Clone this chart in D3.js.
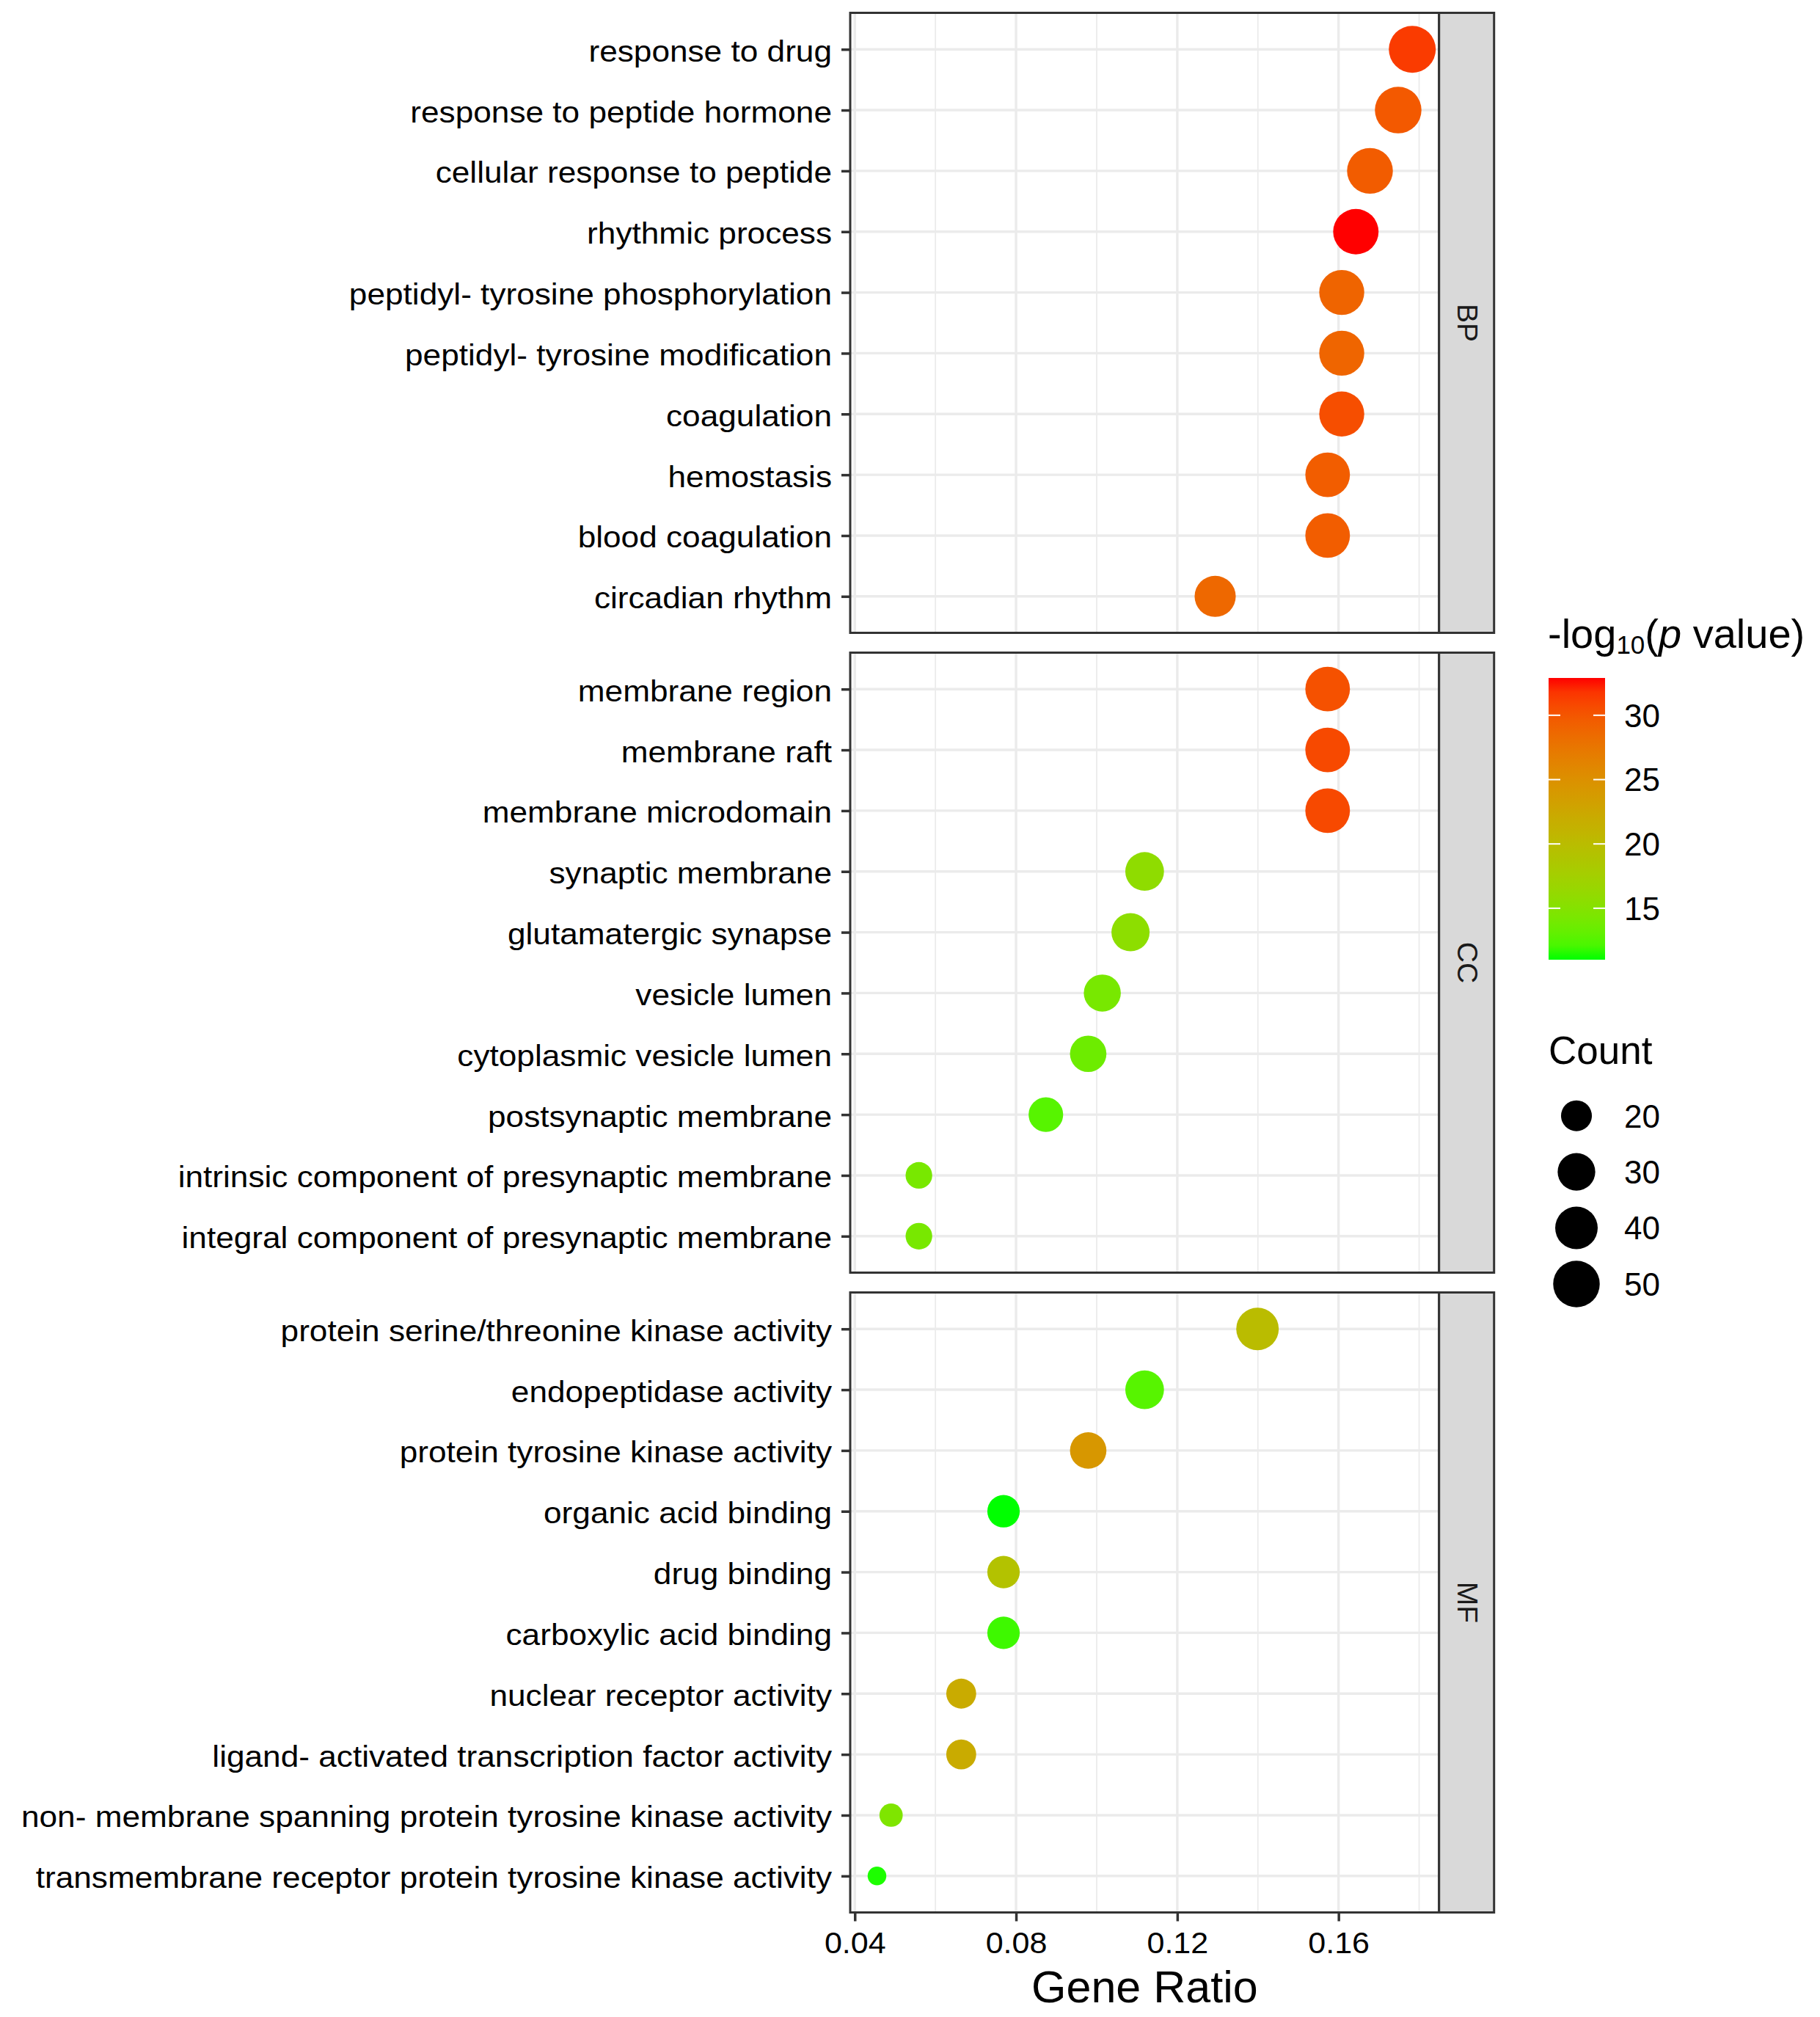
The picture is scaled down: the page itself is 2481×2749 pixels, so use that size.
<!DOCTYPE html>
<html><head><meta charset="utf-8">
<script src="https://cdn.jsdelivr.net/npm/d3@7"></script>
<style>
body{margin:0;background:#fff}
text{font-family:"Liberation Sans",Arial,Helvetica,sans-serif}
</style>
</head><body>
<svg id="chart" width="2481" height="2749"></svg>
<script>
// ---------------- data ----------------
const facetNames = ["BP", "CC", "MF"];

const termsBP = ["response to drug","response to peptide hormone","cellular response to peptide","rhythmic process","peptidyl- tyrosine phosphorylation","peptidyl- tyrosine modification","coagulation","hemostasis","blood coagulation","circadian rhythm"];
const ratioBP = [0.1783,0.1748,0.1678,0.1643,0.1608,0.1608,0.1608,0.1573,0.1573,0.1294];
const countBP = [51,50,48,47,46,46,46,45,45,37];
const logpBP  = [31.5,29.8,29.6,32.9,29.0,28.9,30.5,29.5,29.5,28.7];

const termsCC = ["membrane region","membrane raft","membrane microdomain","synaptic membrane","glutamatergic synapse","vesicle lumen","cytoplasmic vesicle lumen","postsynaptic membrane","intrinsic component of presynaptic membrane","integral component of presynaptic membrane"];
const ratioCC = [0.1573,0.1573,0.1573,0.1119,0.1084,0.1014,0.0979,0.0874,0.0559,0.0559];
const countCC = [45,45,45,32,31,29,28,25,16,16];
const logpCC  = [30.3,30.8,30.8,15.8,15.6,14.2,13.6,12.6,14.2,14.2];

const termsMF = ["protein serine/threonine kinase activity","endopeptidase activity","protein tyrosine kinase activity","organic acid binding","drug binding","carboxylic acid binding","nuclear receptor activity","ligand- activated transcription factor activity","non- membrane spanning protein tyrosine kinase activity","transmembrane receptor protein tyrosine kinase activity"];
const ratioMF = [0.1399,0.1119,0.0979,0.0769,0.0769,0.0769,0.0664,0.0664,0.0490,0.0455];
const countMF = [40,32,28,22,22,22,19,19,14,13];
const logpMF  = [20.0,12.6,24.3,11.0,19.2,11.8,22.0,22.0,14.6,11.2];

const xTicks = [0.04, 0.08, 0.12, 0.16];
const xMinor = [0.06, 0.10, 0.14, 0.18];
const colorTicks = [15, 20, 25, 30];
const sizeBreaks = [20, 30, 40, 50];

const xTitle = "Gene Ratio";
const sizeTitle = "Count";

// ---------------- build ----------------
const facets = [
  {name: facetNames[0], terms: termsBP, ratio: ratioBP, count: countBP, logp: logpBP},
  {name: facetNames[1], terms: termsCC, ratio: ratioCC, count: countCC, logp: logpCC},
  {name: facetNames[2], terms: termsMF, ratio: ratioMF, count: countMF, logp: logpMF}
];
const allRatio = ratioBP.concat(ratioCC, ratioMF);
const allCount = countBP.concat(countCC, countMF);
const allLogp = logpBP.concat(logpCC, logpMF);

const svg = d3.select("#chart");
svg.append("rect").attr("width", 2481).attr("height", 2749).attr("fill", "#fff");

const panelL = 1159, panelR = 1961.7, stripW = 75;
const panelTops = [17.5, 889.5, 1761.5], panelH = 845;

const rExt = d3.extent(allRatio);
const pad = (rExt[1] - rExt[0]) * 0.05;
const x = d3.scaleLinear().domain([rExt[0] - pad, rExt[1] + pad]).range([panelL, panelR]);

const color = d3.scaleLinear().domain(d3.extent(allLogp)).range(["#00ff00", "#ff0000"]).interpolate(d3.interpolateLab);

const sizeNorm = d3.scaleLinear().domain(d3.extent(allCount)).range([0, 1]);
const diam = d3.scaleLinear().domain([0, 1]).range([25.5, 64]);
const diameter = c => diam(Math.sqrt(sizeNorm(c)));

const GRID = "#EBEBEB", DARK = "#333333";
const LAB_FS = 41, LAB_SX = 1.078;

facets.forEach((f, i) => {
  const top = panelTops[i];
  const y = d3.scalePoint().domain(f.terms).range([top, top + panelH]).padding(0.6);
  const g = svg.append("g");

  g.selectAll(".minor").data(xMinor).enter().append("line")
    .attr("x1", d => x(d)).attr("x2", d => x(d)).attr("y1", top).attr("y2", top + panelH)
    .attr("stroke", GRID).attr("stroke-width", 1.8);
  g.selectAll(".majx").data(xTicks).enter().append("line")
    .attr("x1", d => x(d)).attr("x2", d => x(d)).attr("y1", top).attr("y2", top + panelH)
    .attr("stroke", GRID).attr("stroke-width", 3.4);
  g.selectAll(".majy").data(f.terms).enter().append("line")
    .attr("x1", panelL).attr("x2", panelR).attr("y1", d => y(d)).attr("y2", d => y(d))
    .attr("stroke", GRID).attr("stroke-width", 3.4);

  g.selectAll(".pt").data(f.terms).enter().append("circle")
    .attr("cx", (d, j) => x(f.ratio[j]))
    .attr("cy", d => y(d))
    .attr("r", (d, j) => diameter(f.count[j]) / 2)
    .attr("fill", (d, j) => color(f.logp[j]));

  g.append("rect").attr("x", panelL).attr("y", top).attr("width", panelR - panelL).attr("height", panelH)
    .attr("fill", "none").attr("stroke", DARK).attr("stroke-width", 3);

  g.append("rect").attr("x", panelR).attr("y", top).attr("width", stripW).attr("height", panelH)
    .attr("fill", "#D9D9D9").attr("stroke", DARK).attr("stroke-width", 3);
  g.append("text")
    .attr("transform", `translate(${panelR + 25},${top + panelH / 2}) rotate(90)`)
    .attr("text-anchor", "middle")
    .style("font-size", "39px").attr("fill", "#1A1A1A")
    .text(f.name);

  const ya = g.append("g").attr("transform", `translate(${panelL},0)`)
    .call(d3.axisLeft(y).tickSize(12).tickPadding(13));
  ya.select(".domain").remove();
  ya.selectAll(".tick line").attr("stroke", DARK).attr("stroke-width", 3.5);
  ya.selectAll(".tick text")
    .attr("x", -25 / LAB_SX).attr("dy", "0.39em")
    .attr("transform", `scale(${LAB_SX},1)`)
    .attr("fill", "#000")
    .style("font-size", LAB_FS + "px")
    .style("font-family", "'Liberation Sans', Arial, sans-serif");

  if (i === facets.length - 1) {
    const xa = g.append("g").attr("transform", `translate(0,${top + panelH})`)
      .call(d3.axisBottom(x).tickValues(xTicks).tickFormat(d3.format(".2f")).tickSize(12).tickPadding(14));
    xa.select(".domain").remove();
    xa.selectAll(".tick line").attr("stroke", DARK).attr("stroke-width", 3.5);
    xa.selectAll(".tick text")
      .attr("transform", "scale(1.05,1)")
      .attr("fill", "#000")
      .style("font-size", "41px")
      .style("font-family", "'Liberation Sans', Arial, sans-serif");
  }
});

svg.append("text").attr("x", (panelL + panelR) / 2).attr("y", 2729)
  .attr("text-anchor", "middle").style("font-size", "61px").attr("fill", "#000")
  .text(xTitle);

// ---------------- colour legend ----------------
const cbX = 2111, cbW = 77, cbTop = 924, cbBot = 1308;
const cbScale = d3.scaleLinear().domain(d3.extent(allLogp)).range([cbBot, cbTop]);
const defs = svg.append("defs");
const grad = defs.append("linearGradient").attr("id", "cbar")
  .attr("x1", 0).attr("y1", 1).attr("x2", 0).attr("y2", 0);
const cDom = d3.extent(allLogp);
d3.range(0, 1.0001, 0.05).forEach(t => {
  grad.append("stop").attr("offset", t).attr("stop-color", color(cDom[0] + t * (cDom[1] - cDom[0])));
});
const ttl = svg.append("text").attr("x", 2110).attr("y", 883).style("font-size", "56px").attr("fill", "#000");
ttl.append("tspan").text("-log");
ttl.append("tspan").attr("dy", 8).style("font-size", "35px").text("10");
ttl.append("tspan").attr("dy", -8).text("(");
ttl.append("tspan").style("font-style", "italic").text("p");
ttl.append("tspan").text(" value)");

svg.append("rect").attr("x", cbX).attr("y", cbTop).attr("width", cbW).attr("height", cbBot - cbTop)
  .attr("fill", "url(#cbar)");
colorTicks.forEach(v => {
  const yy = cbScale(v);
  svg.append("line").attr("x1", cbX).attr("x2", cbX + 16).attr("y1", yy).attr("y2", yy)
    .attr("stroke", "#fff").attr("stroke-width", 2);
  svg.append("line").attr("x1", cbX + cbW - 16).attr("x2", cbX + cbW).attr("y1", yy).attr("y2", yy)
    .attr("stroke", "#fff").attr("stroke-width", 2);
  svg.append("text").attr("x", 2214).attr("y", yy).attr("dy", "0.36em")
    .style("font-size", "44px").attr("fill", "#000").text(v);
});

// ---------------- size legend ----------------
svg.append("text").attr("x", 2111).attr("y", 1450).style("font-size", "53px").attr("fill", "#000").text(sizeTitle);
const sy = d3.scalePoint().domain(sizeBreaks).range([1520.7, 1750]);
sizeBreaks.forEach(v => {
  svg.append("circle").attr("cx", 2149).attr("cy", sy(v)).attr("r", diameter(v) / 2).attr("fill", "#000");
  svg.append("text").attr("x", 2214).attr("y", sy(v)).attr("dy", "0.36em")
    .style("font-size", "44px").attr("fill", "#000").text(v);
});
</script>
</body></html>
